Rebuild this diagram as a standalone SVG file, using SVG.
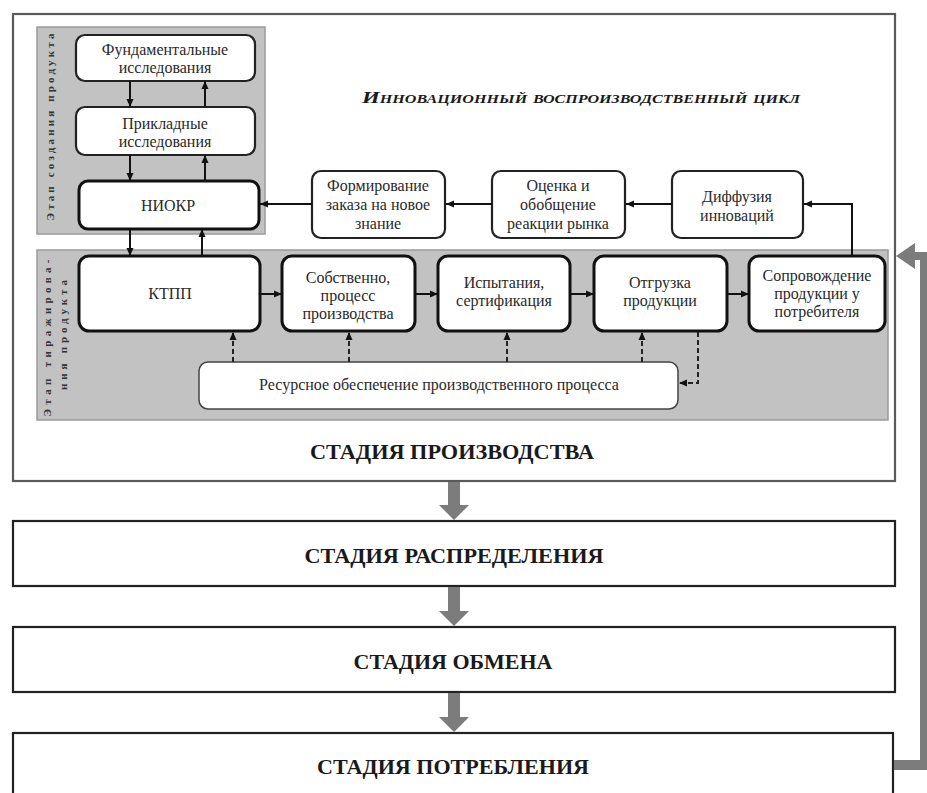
<svg xmlns="http://www.w3.org/2000/svg" width="927" height="793" viewBox="0 0 927 793">
<style>
.bg{fill:#ffffff}
.panel{fill:#c2c2c2;stroke:#9a9a9a;stroke-width:1.5}
.outer{fill:#ffffff;stroke:#5a5a5a;stroke-width:2.2}
.box{fill:#ffffff;stroke:#222;stroke-width:2.2}
.boxb{fill:#ffffff;stroke:#111;stroke-width:3}
.boxt{fill:#ffffff;stroke:#444;stroke-width:1.5}
.stage{fill:#ffffff;stroke:#222;stroke-width:2.2}
.t{font-family:"Liberation Serif","Times New Roman",serif;font-size:16px;fill:#2a2a2a;text-anchor:middle}
.st{font-family:"Liberation Serif","Times New Roman",serif;font-size:21px;font-weight:bold;fill:#1a1a1a;text-anchor:middle}
.vt{font-family:"Liberation Serif","Times New Roman",serif;font-size:11px;font-weight:bold;fill:#333;text-anchor:middle}
.title{font-family:"Liberation Serif","Times New Roman",serif;font-size:17px;font-weight:bold;font-style:italic;font-variant:small-caps;fill:#1a1a1a;text-anchor:middle}
.c{fill:none;stroke:#111;stroke-width:2}
.d{fill:none;stroke:#222;stroke-width:2;stroke-dasharray:5 3}
.g{fill:#7c7c7c}
</style>
<defs>
<marker id="ah" markerUnits="userSpaceOnUse" markerWidth="9" markerHeight="8" refX="8" refY="4" orient="auto">
<path d="M0,0.5 L8,4 L0,7.5 z" fill="#111"/>
</marker>
</defs>
<rect class="bg" x="0" y="0" width="927" height="793"/>

<g id="stage-prod">
<rect class="outer" x="13" y="14" width="882" height="467"/>
<text class="st" x="452" y="459" textLength="284" lengthAdjust="spacingAndGlyphs">СТАДИЯ ПРОИЗВОДСТВА</text>
</g>

<g id="panel-create">
<rect class="panel" x="37" y="27" width="228" height="207"/>
<text class="vt" transform="translate(54,127) rotate(-90)" textLength="187" lengthAdjust="spacing">Этап создания продукта</text>
</g>
<g id="panel-replicate">
<rect class="panel" x="37" y="250" width="851" height="170"/>
<text class="vt" transform="translate(51,338) rotate(-90)" textLength="157" lengthAdjust="spacing">Этап тиражирова-</text>
<text class="vt" transform="translate(67,335) rotate(-90)" textLength="110" lengthAdjust="spacing">ния продукта</text>
</g>

<g id="title">
<text class="title" x="581" y="103" textLength="438" lengthAdjust="spacingAndGlyphs">Инновационный воспроизводственный цикл</text>
</g>

<g id="n-fund">
<rect class="box" x="76" y="35" width="179" height="46" rx="9"/>
<text class="t" x="165" y="55">Фундаментальные</text>
<text class="t" x="165" y="73">исследования</text>
</g>
<g id="n-prikl">
<rect class="box" x="76" y="107" width="179" height="48" rx="9"/>
<text class="t" x="165" y="129">Прикладные</text>
<text class="t" x="165" y="147">исследования</text>
</g>
<g id="n-niokr">
<rect class="boxb" x="79" y="181" width="180" height="48" rx="9"/>
<text class="t" x="168" y="211">НИОКР</text>
</g>

<g id="n-form">
<rect class="box" x="312" y="171" width="133" height="67" rx="9"/>
<text class="t" x="378" y="191">Формирование</text>
<text class="t" x="378" y="210">заказа на новое</text>
<text class="t" x="378" y="229">знание</text>
</g>
<g id="n-ocenka">
<rect class="box" x="492" y="171" width="133" height="67" rx="9"/>
<text class="t" x="558" y="191">Оценка и</text>
<text class="t" x="558" y="210">обобщение</text>
<text class="t" x="558" y="229">реакции рынка</text>
</g>
<g id="n-diff">
<rect class="box" x="672" y="171" width="131" height="67" rx="9"/>
<text class="t" x="737" y="202">Диффузия</text>
<text class="t" x="737" y="221">инноваций</text>
</g>

<g id="n-ktpp">
<rect class="boxb" x="79" y="256" width="181" height="75" rx="10"/>
<text class="t" x="170" y="299">КТПП</text>
</g>
<g id="n-proc">
<rect class="boxb" x="282" y="256" width="133" height="75" rx="10"/>
<text class="t" x="348" y="283">Собственно,</text>
<text class="t" x="348" y="301">процесс</text>
<text class="t" x="348" y="319">производства</text>
</g>
<g id="n-isp">
<rect class="boxb" x="438" y="256" width="132" height="75" rx="10"/>
<text class="t" x="504" y="288">Испытания,</text>
<text class="t" x="504" y="306">сертификация</text>
</g>
<g id="n-otgr">
<rect class="boxb" x="594" y="256" width="133" height="75" rx="10"/>
<text class="t" x="660" y="288">Отгрузка</text>
<text class="t" x="660" y="306">продукции</text>
</g>
<g id="n-sopr">
<rect class="boxb" x="749" y="256" width="136" height="75" rx="10"/>
<text class="t" x="817" y="281">Сопровождение</text>
<text class="t" x="817" y="299">продукции у</text>
<text class="t" x="817" y="317">потребителя</text>
</g>
<g id="n-res">
<rect class="boxt" x="199" y="362" width="479" height="47" rx="9"/>
<text class="t" x="439" y="390">Ресурсное обеспечение производственного процесса</text>
</g>

<g id="stage-rasp">
<rect class="stage" x="13" y="521" width="882" height="65"/>
<text class="st" x="454" y="563" textLength="299" lengthAdjust="spacingAndGlyphs">СТАДИЯ РАСПРЕДЕЛЕНИЯ</text>
</g>
<g id="stage-obm">
<rect class="stage" x="13" y="627" width="882" height="65"/>
<text class="st" x="453" y="669" textLength="199" lengthAdjust="spacingAndGlyphs">СТАДИЯ ОБМЕНА</text>
</g>
<g id="stage-potr">
<rect class="stage" x="13" y="733" width="880" height="80"/>
<text class="st" x="453" y="774" textLength="272" lengthAdjust="spacingAndGlyphs">СТАДИЯ ПОТРЕБЛЕНИЯ</text>
</g>

<g id="connectors">
<line class="c" x1="130" y1="81" x2="130" y2="107" marker-end="url(#ah)"/>
<line class="c" x1="205" y1="107" x2="205" y2="81" marker-end="url(#ah)"/>
<line class="c" x1="130" y1="155" x2="130" y2="181" marker-end="url(#ah)"/>
<line class="c" x1="205" y1="181" x2="205" y2="155" marker-end="url(#ah)"/>
<line class="c" x1="130" y1="229" x2="130" y2="256" marker-end="url(#ah)"/>
<line class="c" x1="202" y1="256" x2="202" y2="229" marker-end="url(#ah)"/>
<line class="c" x1="312" y1="204" x2="260" y2="204" marker-end="url(#ah)"/>
<line class="c" x1="492" y1="204" x2="446" y2="204" marker-end="url(#ah)"/>
<line class="c" x1="672" y1="204" x2="626" y2="204" marker-end="url(#ah)"/>
<polyline class="c" points="852,256 852,204 804,204" marker-end="url(#ah)"/>
<line class="c" x1="260" y1="294" x2="282" y2="294" marker-end="url(#ah)"/>
<line class="c" x1="415" y1="294" x2="438" y2="294" marker-end="url(#ah)"/>
<line class="c" x1="570" y1="294" x2="594" y2="294" marker-end="url(#ah)"/>
<line class="c" x1="727" y1="294" x2="749" y2="294" marker-end="url(#ah)"/>
<line class="d" x1="233" y1="362" x2="233" y2="332" marker-end="url(#ah)"/>
<line class="d" x1="349" y1="362" x2="349" y2="332" marker-end="url(#ah)"/>
<line class="d" x1="507" y1="362" x2="507" y2="332" marker-end="url(#ah)"/>
<line class="d" x1="642" y1="362" x2="642" y2="332" marker-end="url(#ah)"/>
<polyline class="d" points="698,332 698,383 679,383" marker-end="url(#ah)"/>
<path class="g" d="M448,482 H460 V505 H469 L454,520 L439,505 H448 Z"/>
<path class="g" d="M448,587 H460 V611 H469 L454,626 L439,611 H448 Z"/>
<path class="g" d="M448,693 H460 V717 H469 L454,732 L439,717 H448 Z"/>
<path class="g" d="M894,760 H927 V770 H894 Z"/>
<path class="g" d="M920,252 H927 V770 H920 Z"/>
<path class="g" d="M896,256 L915,243 V252 H927 V260 H915 V269 Z"/>
</g>
</svg>
